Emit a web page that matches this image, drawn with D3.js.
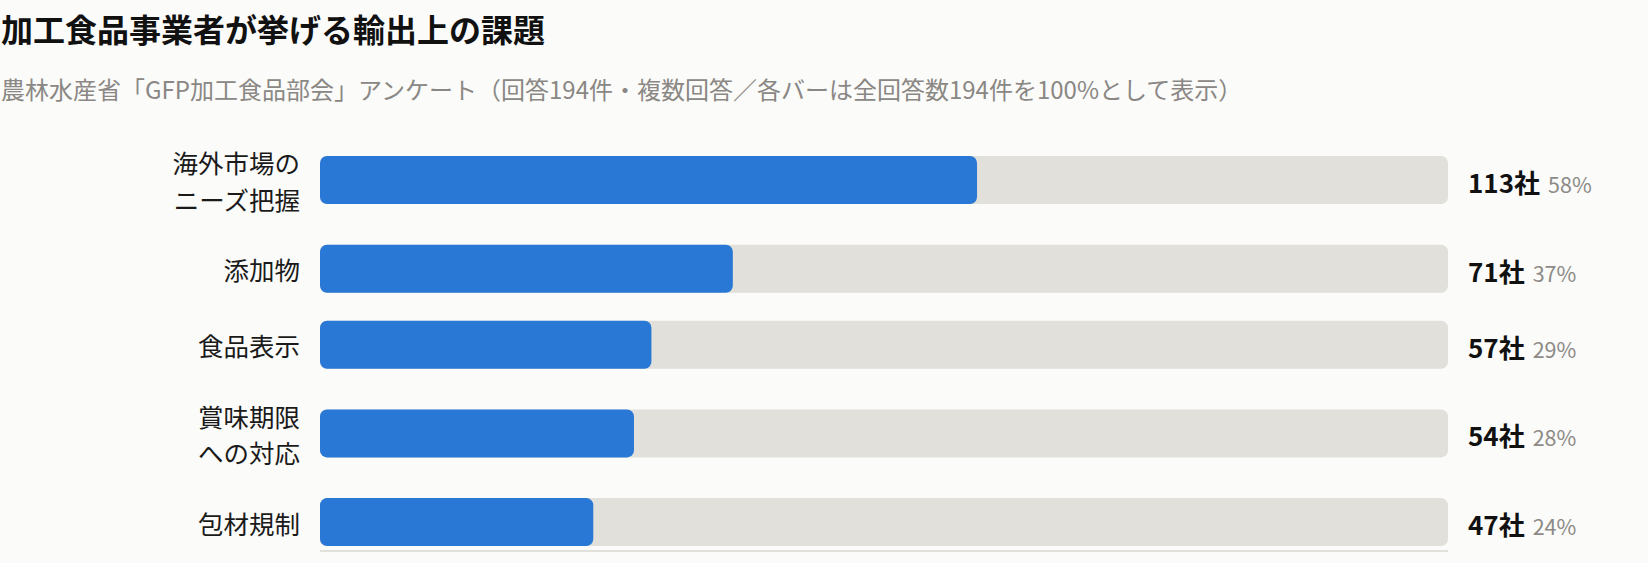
<!DOCTYPE html>
<html><head><meta charset="utf-8">
<script src="https://cdn.jsdelivr.net/npm/d3@7"></script>
<style>
html,body{margin:0;padding:0;background:#fbfbf9;}
svg{display:block;}
text{font-family:"Noto Sans CJK JP","Noto Sans",sans-serif;}
</style></head>
<body><div id="chart"></div>
<script>
const categories = [["海外市場の","ニーズ把握"],["添加物"],["食品表示"],["賞味期限","への対応"],["包材規制"]];
const counts = [113, 71, 57, 54, 47];
const percents = ["58%", "37%", "29%", "28%", "24%"];
const totalResponses = 194;
const titleText = "加工食品事業者が挙げる輸出上の課題";
const subtitleText = "農林水産省「GFP加工食品部会」アンケート（回答194件・複数回答／各バーは全回答数194件を100%として表示）";

const W = 1648, H = 563;
const svg = d3.select("#chart").append("svg").attr("width", W).attr("height", H);

svg.append("text").attr("x", 1).attr("y", 28).attr("dominant-baseline", "central")
  .attr("font-size", 32).attr("font-weight", 700).attr("fill", "#111").text(titleText);
svg.append("text").attr("x", 1).attr("y", 88).attr("dominant-baseline", "central")
  .attr("font-size", 24).attr("fill", "#8a8784").text(subtitleText);

const x = d3.scaleLinear().domain([0, totalResponses]).range([320, 1448]);
const barH = 48, lineH = 36.7, gap = 28, top0 = 143.3;

// row layout from label line counts
let yCur = top0;
const rows = categories.map((lines, i) => {
  const h = Math.max(barH, lines.length * lineH);
  const r = {lines, count: counts[i], pct: percents[i], top: yCur, h, mid: yCur + h / 2};
  yCur += h + gap;
  return r;
});

const g = svg.append("g");
const row = g.selectAll("g.row").data(rows).join("g").attr("class", "row");

row.append("rect").attr("x", x(0)).attr("y", d => d.mid - barH / 2)
  .attr("width", x(totalResponses) - x(0)).attr("height", barH)
  .attr("rx", 7).attr("fill", "#e1e0da");
row.append("rect").attr("x", x(0)).attr("y", d => d.mid - barH / 2)
  .attr("width", d => x(d.count) - x(0)).attr("height", barH)
  .attr("rx", 7).attr("fill", "#2a78d5");

row.each(function(d) {
  const t = d3.select(this).append("text").attr("text-anchor", "end")
    .attr("font-size", 25.5).attr("fill", "#1a1a1a");
  const n = d.lines.length;
  d.lines.forEach((l, j) => {
    t.append("tspan").attr("x", 300).attr("y", d.mid + (j - (n - 1) / 2) * lineH)
      .attr("dominant-baseline", "central").text(l);
  });
});

const vt = row.append("text").attr("x", x(totalResponses) + 20).attr("y", d => d.mid + 13);
vt.append("tspan").attr("font-size", 26).attr("font-weight", 700).attr("fill", "#111")
  .text(d => d.count + "社");
vt.append("tspan").attr("dx", 8).attr("font-size", 21.5).attr("fill", "#8d8a87")
  .text(d => d.pct);

const last = rows[rows.length - 1];
svg.append("line").attr("x1", x(0)).attr("x2", x(totalResponses))
  .attr("y1", last.mid + barH / 2 + 5).attr("y2", last.mid + barH / 2 + 5)
  .attr("stroke", "#e1e0da").attr("stroke-width", 2);
</script></body></html>
